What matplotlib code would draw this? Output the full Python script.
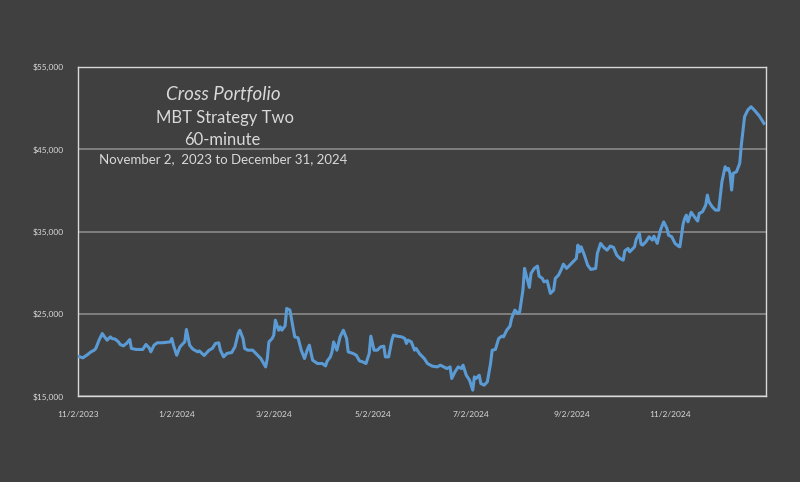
import pandas as pd
import numpy as np
import matplotlib
matplotlib.use("Agg")
import matplotlib.pyplot as plt
import matplotlib.dates as mdates

# equity curve: days since 11/2/2023 and account value
start_date = "2023-11-02"
end_date = "2024-12-31"
day_offsets = [
    0, 3, 6, 8, 10, 11, 13, 15, 16, 18, 20, 21, 23, 25, 26, 28, 30, 32, 33, 36,
    40, 42, 44, 45, 47, 49, 52, 57, 58, 59, 61, 63, 65, 66, 67, 69, 71, 74, 75, 78,
    81, 83, 85, 87, 88, 90, 92, 95, 97, 99, 100, 102, 103, 105, 108, 110, 113, 116, 117, 118,
    120, 121, 122, 124, 125, 126, 128, 129, 131, 133, 134, 136, 138, 140, 142, 143, 145, 148, 151, 153,
    154, 156, 157, 158, 160, 162, 164, 166, 167, 170, 172, 174, 176, 178, 180, 181, 183, 185, 187, 189,
    190, 192, 194, 195, 197, 200, 202, 203, 204, 206, 208, 209, 211, 212, 214, 216, 219, 222, 224, 226,
    228, 230, 231, 233, 235, 237, 238, 240, 242, 243, 244, 245, 246, 248, 249, 251, 253, 255, 256, 258,
    260, 262, 263, 265, 267, 268, 270, 272, 273, 275, 276, 277, 279, 280, 282, 284, 285, 287, 288, 290,
    292, 294, 295, 297, 299, 300, 302, 304, 306, 308, 309, 310, 311, 313, 315, 317, 320, 321, 323, 325,
    327, 329, 331, 333, 335, 337, 338, 340, 341, 344, 345, 347, 348, 349, 351, 353, 355, 356, 358, 360,
    362, 364, 365, 367, 369, 371, 372, 374, 375, 376, 377, 379, 381, 383, 384, 386, 388, 389, 390, 392,
    394, 396, 398, 400, 401, 402, 403, 404, 405, 407, 409, 410, 412, 414, 416, 418, 421, 424,
]
equity = [
    19860, 19660, 20070, 20390, 20590, 20800, 21810, 22620, 22330, 21810, 22210, 22010, 21930, 21600, 21290, 21120, 21410, 21890, 20800, 20680,
    20680, 21290, 20870, 20390, 21200, 21490, 21490, 21600, 22010, 21200, 19980, 20990, 21410, 21600, 23110, 21200, 20710, 20390, 20500, 19950,
    20590, 20800, 21410, 21490, 20590, 19780, 20190, 20310, 20990, 22620, 23020, 22010, 20800, 20590, 20590, 20190, 19580, 18560, 19580, 21600,
    22010, 22420, 24240, 23020, 23430, 23020, 23550, 25660, 25460, 23230, 22210, 22090, 20590, 19580, 20800, 21200, 19380, 18970, 18970, 18680,
    19260, 19780, 20390, 21600, 20590, 22210, 23020, 22010, 20390, 20190, 19980, 19290, 19170, 18970, 20190, 22300, 20590, 20590, 20990, 21080,
    19780, 19780, 21810, 22420, 22300, 22210, 22010, 21410, 21810, 21600, 20590, 20800, 20190, 19980, 19580, 18970, 18650, 18560, 18770, 18560,
    18360, 18560, 17150, 17950, 18560, 18360, 18770, 17550, 16950, 16340, 15730, 17350, 17150, 17550, 16540, 16340, 16740, 18970, 20590, 20680,
    22010, 22300, 22210, 23020, 23510, 24450, 25460, 25050, 25250, 27890, 30530, 29710, 28220, 29920, 30530, 30810, 29590, 29310, 28900, 29020,
    27490, 27890, 29310, 29710, 30530, 31050, 30530, 30930, 31330, 31740, 33360, 32540, 33150, 32140, 30930, 30400, 30530, 32350, 33570, 33080,
    32750, 33240, 33080, 32140, 31740, 31530, 32670, 32950, 32540, 33150, 34050, 34780, 33480, 33360, 33760, 34370, 33970, 34450, 33570, 35180,
    36190, 35390, 34570, 34370, 33570, 33240, 33150, 35900, 36600, 37000, 36190, 37350, 36800, 36280, 37210, 37410, 38220, 39440, 38620, 38010,
    37610, 37610, 41050, 42880, 42480, 42680, 42080, 40050, 42080, 42270, 43290, 45520, 48960, 49770, 50170, 49770, 49080, 48150,
]
tick_dates = ["2023-11-02", "2024-01-02", "2024-03-02", "2024-05-02", "2024-07-02", "2024-09-02", "2024-11-02"]
y_ticks = [15000, 25000, 35000, 45000, 55000]
title_lines = ["Cross Portfolio", "MBT Strategy Two", "60-minute"]
date_range_text = "November 2,  2023 to December 31, 2024"

bg = "#404040"
txt = "#d9d9d9"

plt.rcParams['font.family'] = ['Lato', 'DejaVu Sans']

dates = pd.Timestamp(start_date) + pd.to_timedelta(day_offsets, unit="D")

fig = plt.figure(figsize=(8, 4.82), dpi=100, facecolor=bg)
ax = fig.add_axes([0.0975, 0.178, 0.8595, 0.683])
ax.set_facecolor(bg)

ax.plot(dates, equity, color="#5b9bd5", linewidth=2.2, solid_joinstyle="round", zorder=3)

ax.set_xlim(pd.Timestamp(start_date), pd.Timestamp(end_date))
ax.set_ylim(15000, 55000)

ticks = [pd.Timestamp(d) for d in tick_dates]
ax.set_xticks(ticks)
ax.set_xticklabels([f"{t.month}/{t.day}/{t.year}" for t in ticks], fontsize=6, color=txt)
ax.set_yticks(y_ticks)
ax.set_yticklabels([f"${v:,.0f}" for v in y_ticks], fontsize=6, color=txt)
ax.tick_params(axis="both", length=0)
ax.tick_params(axis="x", pad=11)
ax.tick_params(axis="y", pad=10)

ax.grid(axis="y", color="#8a8a8a", linewidth=1.2, zorder=1)
for s in ax.spines.values():
    s.set_color("#d9d9d9")
    s.set_linewidth(1.0)

# title block inside the plot area
fig.text(223 / 800, 1 - 94 / 482, title_lines[0], fontsize=13.5, style="italic", color=txt, ha="center", va="center")
fig.text(225 / 800, 1 - 118 / 482, title_lines[1], fontsize=12, color=txt, ha="center", va="center")
fig.text(222 / 800, 1 - 140 / 482, title_lines[2], fontsize=12, color=txt, ha="center", va="center")
fig.text(223 / 800, 1 - 159 / 482, date_range_text, fontsize=9.5, color=txt, ha="center", va="center")

fig.savefig("out.png", dpi=100, facecolor=bg)
